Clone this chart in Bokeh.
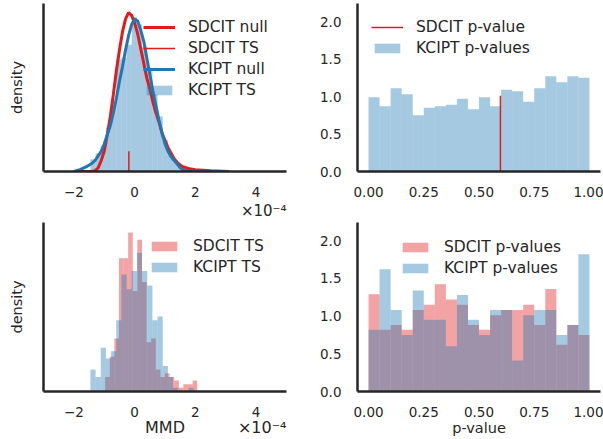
import numpy as np
from bokeh.plotting import figure
from bokeh.layouts import gridplot
from bokeh.models import (Range1d, FixedTicker, Title, LinearAxis, Legend, LegendItem,
                          PrintfTickFormatter)
from bokeh.embed import file_html
from bokeh.resources import INLINE

# ---------------- data (MMD values in units of 1e-4) ----------------
null_x = [-2.0, -1.8, -1.6, -1.4, -1.3, -1.2, -1.1, -1.0, -0.9, -0.8, -0.7, -0.6, -0.5, -0.4,
          -0.3, -0.2, -0.1, 0.0, 0.1, 0.2, 0.3, 0.4, 0.5, 0.6, 0.7, 0.8, 0.9, 1.0, 1.1, 1.2,
          1.3, 1.4, 1.5, 1.6, 1.8, 2.0, 2.5, 3.1]
sdcit_null = [0.0, 0.0, 0.0, 0.0, 0.005, 0.02, 0.06, 0.11, 0.20, 0.30, 0.42, 0.55, 0.66, 0.76,
              0.83, 0.865, 0.85, 0.81, 0.75, 0.67, 0.59, 0.51, 0.45, 0.38, 0.32, 0.27, 0.21, 0.17,
              0.13, 0.10, 0.07, 0.05, 0.035, 0.025, 0.015, 0.01, 0.004, 0.0]
kcipt_null = [0.0, 0.01, 0.025, 0.045, 0.06, 0.085, 0.11, 0.15, 0.20, 0.25, 0.32, 0.40, 0.49, 0.57,
              0.66, 0.74, 0.80, 0.83, 0.82, 0.77, 0.71, 0.62, 0.53, 0.44, 0.36, 0.28, 0.21, 0.15,
              0.11, 0.08, 0.06, 0.04, 0.02, 0.01, 0.0, 0.0, 0.0, 0.0]
sdcit_ts_single = -0.19
sdcit_ts_mark = 0.11

# KCIPT TS (single test) histogram, top-left
kcipt_ts1_start, kcipt_ts1_width = -1.455, 0.17
kcipt_ts1 = [0.067, 0.10, 0.14, 0.24, 0.38, 0.61, 0.62, 0.69, 0.84, 0.80, 0.68, 0.55, 0.42,
             0.30, 0.17, 0.10, 0.05, 0.02, 0.01, 0.0]

# TS over many tests, bottom-left
sdcit_ts_start, sdcit_ts_width = -0.97, 0.1515
sdcit_ts = [0.08, 0.19, 0.29, 0.73, 0.73, 0.87, 0.55, 0.83, 0.60, 0.27, 0.29, 0.12, 0.08,
            0.10, 0.08, 0.06, 0.02, 0.04, 0.04, 0.06]
kcipt_ts_start, kcipt_ts_width = -1.455, 0.17
kcipt_ts = [0.12, 0.08, 0.24, 0.18, 0.22, 0.39, 0.64, 0.56, 0.66, 0.76, 0.66, 0.58, 0.39, 0.41,
            0.14, 0.08, 0.02, 0.0, 0.0, 0.02]

# p-values
p_width = 0.05
sdcit_pvalue_single = 0.597
sdcit_pvalue_mark = 1.01
kcipt_p1 = [0.99, 0.87, 1.11, 1.03, 0.75, 0.85, 0.87, 0.89, 0.97, 0.83, 0.99, 0.87, 1.09, 1.07,
            0.93, 1.11, 1.27, 1.19, 1.27, 1.25]
sdcit_p = [1.29, 0.82, 0.88, 0.82, 1.08, 1.15, 1.42, 1.22, 1.15, 0.88, 0.82, 1.01, 1.08, 1.08,
           1.15, 0.88, 1.36, 0.62, 0.88, 0.75]
kcipt_p = [0.82, 1.62, 1.08, 0.75, 1.34, 0.95, 0.95, 0.60, 1.28, 0.95, 0.75, 1.08, 1.08, 0.41,
           1.01, 1.08, 1.08, 0.75, 0.88, 1.82]

mmd_ticks = [-2, 0, 2, 4]
p_ticks = [0.0, 0.25, 0.5, 0.75, 1.0]
y_ticks = [0.0, 0.5, 1.0, 1.5, 2.0]

# ---------------- styling ----------------
RED = "#e41a1c"
BLUE = "#1f77b4"
TXT = "#262626"
FONT = "DejaVu Sans"
TICK_FS = "13.5px"
LEG_FS = "15.5px"
LAB_FS = "14.5px"
OFF_FS = "15px"
OFFSET_TXT = "\u00d710\u207b\u2074"
# positions (on the MMD scale) of the two texts sharing the row below the lower-left axis
MMD_LABEL_POS = 1.0
OFFSET_POS = 4.2


def edges(start, width, n):
    left = start + width * np.arange(n)
    return left, left + width


def style_axis(ax):
    ax.axis_line_color = "#262626"
    ax.axis_line_width = 2.5
    ax.major_tick_line_color = None
    ax.minor_tick_line_color = None
    ax.major_label_text_font = FONT
    ax.major_label_text_font_size = TICK_FS
    ax.major_label_text_color = TXT
    ax.axis_label_text_font = FONT
    ax.axis_label_text_font_size = LAB_FS
    ax.axis_label_text_font_style = "normal"
    ax.axis_label_text_color = TXT


def base_fig(w, h, xr, yr, bl, br, bt, bb):
    p = figure(width=w, height=h, x_range=Range1d(*xr), y_range=Range1d(*yr),
               output_backend="svg", toolbar_location=None,
               min_border_left=bl, min_border_right=br, min_border_top=bt, min_border_bottom=bb)
    p.outline_line_color = None
    p.grid.visible = False
    p.background_fill_color = "white"
    style_axis(p.xaxis[0])
    style_axis(p.yaxis[0])
    p.xaxis.major_label_standoff = 9
    p.yaxis.major_label_standoff = 10
    return p


def mmd_axes(p):
    p.xaxis.ticker = FixedTicker(ticks=mmd_ticks)
    p.xaxis.major_label_overrides = {t: (("\u2212" + str(abs(t))) if t < 0 else str(t)) for t in mmd_ticks}
    p.yaxis.ticker = FixedTicker(ticks=[])
    p.yaxis.axis_label = "density"
    p.yaxis.axis_label_standoff = 19


def p_axes(p):
    p.xaxis.ticker = FixedTicker(ticks=p_ticks)
    p.xaxis.formatter = PrintfTickFormatter(format="%.2f")
    p.yaxis.ticker = FixedTicker(ticks=y_ticks)
    p.yaxis.formatter = PrintfTickFormatter(format="%.1f")


def legend(p, items, x, y):
    lg = Legend(items=items, location=(x, y), border_line_color=None, background_fill_alpha=0,
                label_text_font=FONT, label_text_font_size=LEG_FS, label_text_color=TXT,
                glyph_width=32, glyph_height=12, label_standoff=13, spacing=3, padding=0, margin=0)
    p.add_layout(lg)


# ---------------- top-left ----------------
p1 = base_fig(301, 219, (-3, 5), (0, 0.915), 43, 15, 3, 47)
mmd_axes(p1)
l, r = edges(kcipt_ts1_start, kcipt_ts1_width, len(kcipt_ts1))
h1 = p1.quad(left=l, right=r, bottom=0, top=kcipt_ts1, fill_color=BLUE, fill_alpha=0.4, line_color=None)
s1 = p1.line(null_x, sdcit_null, line_color=RED, line_width=3)
k1 = p1.line(null_x, kcipt_null, line_color=BLUE, line_width=3)
t1 = p1.segment(x0=[sdcit_ts_single], y0=[0], x1=[sdcit_ts_single], y1=[sdcit_ts_mark],
                line_color=RED, line_width=1.5)
legend(p1, [LegendItem(label="SDCIT null", renderers=[s1]),
            LegendItem(label="SDCIT TS", renderers=[t1]),
            LegendItem(label="KCIPT null", renderers=[k1]),
            LegendItem(label="KCIPT TS", renderers=[h1])], 100, 72)
p1.add_layout(Title(text=OFFSET_TXT, align="right", standoff=0, text_font=FONT,
                    text_font_size=OFF_FS, text_font_style="normal", text_color=TXT), "below")

# ---------------- top-right ----------------
p2 = base_fig(302, 219, (-0.05, 1.05), (0, 2.24), 56, 3, 3, 47)
p_axes(p2)
l, r = edges(0.0, p_width, len(kcipt_p1))
h2 = p2.quad(left=l, right=r, bottom=0, top=kcipt_p1, fill_color=BLUE, fill_alpha=0.4, line_color=None)
v2 = p2.segment(x0=[sdcit_pvalue_single], y0=[0], x1=[sdcit_pvalue_single], y1=[sdcit_pvalue_mark],
                line_color=RED, line_width=1.5)
legend(p2, [LegendItem(label="SDCIT p-value", renderers=[v2]),
            LegendItem(label="KCIPT p-values", renderers=[h2])], 14, 114)

# ---------------- bottom-left ----------------
p3 = base_fig(301, 220, (-3, 5), (0, 0.925), 43, 15, 3, 48)
mmd_axes(p3)
# second axis (no line) carrying "MMD" and the scale note on one row
ax2 = LinearAxis(ticker=FixedTicker(ticks=[MMD_LABEL_POS, OFFSET_POS]))
style_axis(ax2)
ax2.axis_line_color = None
ax2.major_tick_out = 0
ax2.major_tick_in = 0
ax2.major_label_overrides = {MMD_LABEL_POS: "MMD", OFFSET_POS: OFFSET_TXT}
ax2.major_label_text_font_size = "16px"
ax2.major_label_standoff = -2
p3.add_layout(ax2, "below")
l, r = edges(sdcit_ts_start, sdcit_ts_width, len(sdcit_ts))
h3a = p3.quad(left=l, right=r, bottom=0, top=sdcit_ts, fill_color=RED, fill_alpha=0.4, line_color=None)
l, r = edges(kcipt_ts_start, kcipt_ts_width, len(kcipt_ts))
h3b = p3.quad(left=l, right=r, bottom=0, top=kcipt_ts, fill_color=BLUE, fill_alpha=0.4, line_color=None)
legend(p3, [LegendItem(label="SDCIT TS", renderers=[h3a]),
            LegendItem(label="KCIPT TS", renderers=[h3b])], 105, 115)

# ---------------- bottom-right ----------------
p4 = base_fig(302, 220, (-0.05, 1.05), (0, 2.24), 56, 3, 3, 48)
p_axes(p4)
p4.xaxis.axis_label = "p-value"
p4.xaxis.axis_label_standoff = 0
l, r = edges(0.0, p_width, len(sdcit_p))
h4a = p4.quad(left=l, right=r, bottom=0, top=sdcit_p, fill_color=RED, fill_alpha=0.4, line_color=None)
h4b = p4.quad(left=l, right=r, bottom=0, top=kcipt_p, fill_color=BLUE, fill_alpha=0.4, line_color=None)
legend(p4, [LegendItem(label="SDCIT p-values", renderers=[h4a]),
            LegendItem(label="KCIPT p-values", renderers=[h4b])], 42, 114)

grid = gridplot([[p1, p2], [p3, p4]], toolbar_location=None)

open("out.html", "w").write(file_html(grid, INLINE))
